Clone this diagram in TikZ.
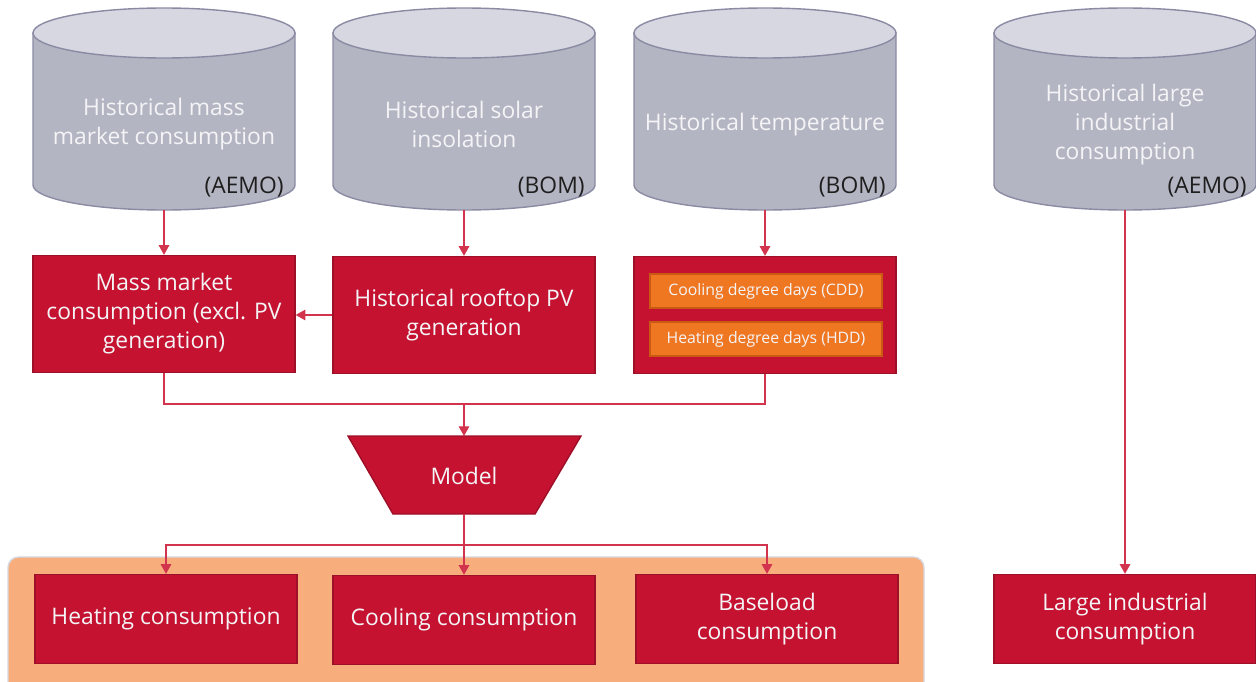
\documentclass[tikz,border=0pt]{standalone}
\usepackage{fontspec}
\setmainfont{Open Sans}
\usetikzlibrary{arrows.meta}
\definecolor{rosso}{HTML}{C41230}
\definecolor{bordo}{HTML}{9E0F28}
\definecolor{linearossa}{HTML}{D2344E}
\definecolor{arancio}{HTML}{F07722}
\definecolor{bordoarancio}{HTML}{C85A14}
\definecolor{aranciochiaro}{HTML}{F7AE7C}
\definecolor{grigio}{HTML}{B4B5C3}
\definecolor{grigiochiaro}{HTML}{D6D7E1}
\definecolor{grigioscuro}{HTML}{8A8BA3}
\definecolor{testochiaro}{HTML}{F4F4F6}
\definecolor{testoscuro}{HTML}{1E1E1E}
\begin{document}
\begin{tikzpicture}[x=0.02cm,y=0.02cm,
    scatola/.style={draw=bordo,fill=rosso,line width=0.8pt,text=testochiaro,
        minimum width=5.24cm,align=center,inner sep=0pt,
        font=\fontsize{13}{16.5}\selectfont},
    giorni/.style={draw=bordoarancio,fill=arancio,line width=0.8pt,text=testochiaro,
        minimum width=4.64cm,minimum height=0.68cm,inner sep=0pt,
        font=\fontsize{9}{11}\selectfont},
    dbtesto/.style={text=testochiaro,align=center,font=\fontsize{13}{16.5}\selectfont},
    fonte/.style={text=testoscuro,anchor=east,inner sep=0pt,font=\fontsize{13}{16.5}\selectfont},
    linea/.style={draw=linearossa,line width=0.6pt},
    freccia/.style={linea,-{Triangle[length=5.5pt,width=6pt]}}]

    \useasboundingbox (0,0) rectangle (1256,681);

    %sfondo
    \draw[fill=aranciochiaro,draw=grigiochiaro,line width=0.8pt,rounded corners=6pt] (8,-20) rectangle (924,124);

    %cilindri
    \foreach \cx/\nome in {164/mass,464/solar,765/temp,1125/large}{
        \filldraw[fill=grigio,draw=grigioscuro,line width=0.8pt] (\cx-131,648) -- (\cx-131,496)
            arc[start angle=180,end angle=360,x radius=131,y radius=25] -- (\cx+131,648) -- cycle;
        \filldraw[fill=grigiochiaro,draw=grigioscuro,line width=0.8pt] (\cx,648) ellipse[x radius=131,y radius=25];
        \coordinate (\nome base) at (\cx,471);
    }
    \node[dbtesto] (massdb) at (164,557) {Historical mass\\market consumption};
    \node[dbtesto] (solardb) at (464,557) {Historical solar\\insolation};
    \node[dbtesto] (tempdb) at (765,556) {Historical temperature};
    \node[dbtesto] (largedb) at (1125,556) {Historical large\\industrial\\consumption};
    \node[fonte] (massfonte) at (284,494) {(AEMO)};
    \node[fonte] (solarfonte) at (585,494) {(BOM)};
    \node[fonte] (tempfonte) at (886,494) {(BOM)};
    \node[fonte] (largefonte) at (1247,494) {(AEMO)};

    %scatole
    \node[scatola,minimum height=2.34cm] (massa) at (164,367) {Mass market\\consumption (excl. PV\\generation)};
    \node[scatola,minimum height=2.34cm] (rooftop) at (464,366) {Historical rooftop PV\\generation};
    \node[scatola,minimum height=2.34cm] (gradi) at (765,366) {};
    \node[giorni] (cdd) at (766,390) {Cooling degree days (CDD)};
    \node[giorni] (hdd) at (766,342) {Heating degree days (HDD)};

    %modello
    \filldraw[fill=rosso,draw=bordo,line width=0.8pt] (348,245) -- (581,245) -- (535,167) -- (393,167) -- cycle;
    \node[text=testochiaro,font=\fontsize{13}{16.5}\selectfont] (model) at (464,205) {Model};
    \coordinate (modeltop) at (464,245);
    \coordinate (modelbot) at (464,167);

    %risultati
    \node[scatola,minimum height=1.78cm] (heat) at (166,62) {Heating consumption};
    \node[scatola,minimum height=1.78cm] (cool) at (464,61) {Cooling consumption};
    \node[scatola,minimum height=1.78cm] (baseload) at (767,62) {Baseload\\consumption};
    \node[scatola,minimum height=1.78cm] (largecons) at (1125,62) {Large industrial\\consumption};

    %frecce
    \draw[freccia] (massbase) -- (massa);
    \draw[freccia] (solarbase) -- (rooftop);
    \draw[freccia] (tempbase) -- (gradi);
    \draw[freccia] (rooftop.west) -- (massa.east |- rooftop.west);
    \coordinate (giunto) at (464,277);
    \draw[linea] (massa.south) |- (giunto) -| (gradi.south);
    \draw[freccia] (giunto) -- (modeltop);
    \coordinate (ramo) at (464,136);
    \draw[freccia] (modelbot) -- (cool.north);
    \draw[freccia] (ramo) -| (heat.north);
    \draw[freccia] (ramo) -| (baseload.north);
    \draw[freccia] (largebase) -- (largecons);

\end{tikzpicture}
\end{document}
